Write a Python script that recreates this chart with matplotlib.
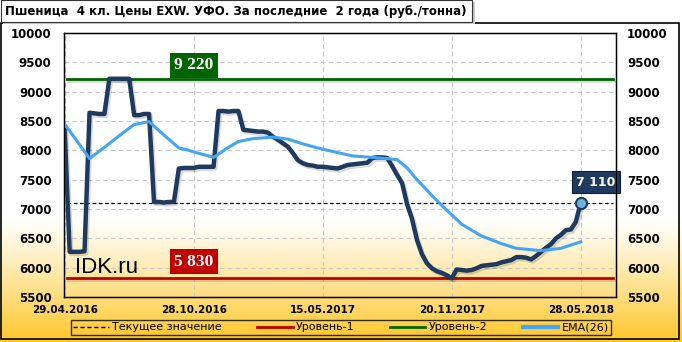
import numpy as np
import matplotlib
matplotlib.use("Agg")
import matplotlib.pyplot as plt
import matplotlib.patheffects as pe
from matplotlib.lines import Line2D
from matplotlib.patches import Rectangle

# ------------------------------------------------------------------ #
#  Données (lues sur le graphique, pas de points hebdomadaires)        #
# ------------------------------------------------------------------ #
prix = [8350, 6270, 6270, 6270, 6280, 8640, 8630, 8620, 8620, 9220,
        9220, 9220, 9220, 9220, 8600, 8600, 8620, 8620, 7120, 7120,
        7110, 7120, 7120, 7690, 7700, 7700, 7700, 7720, 7720, 7720,
        7720, 8670, 8670, 8660, 8670, 8670, 8350, 8340, 8330, 8320,
        8320, 8300, 8230, 8180, 8120, 8060, 7950, 7830, 7780, 7750,
        7740, 7720, 7720, 7710, 7700, 7690, 7720, 7750, 7760, 7770,
        7780, 7790, 7870, 7880, 7880, 7870, 7730, 7580, 7440, 7080,
        6830, 6470, 6230, 6075, 5990, 5940, 5910, 5870, 5820, 5970,
        5960, 5950, 5960, 5990, 6030, 6040, 6050, 6060, 6090, 6110,
        6130, 6180, 6180, 6170, 6140, 6200, 6270, 6340, 6400, 6500,
        6560, 6640, 6650, 6780, 7110]

ema_idx = [0, 5, 8, 11, 14, 17, 20, 23, 25, 27, 30, 33, 35, 38, 42, 45,
           48, 51, 53, 58, 62, 65, 67, 69, 71, 74, 76, 78, 80, 84, 88,
           91, 96, 100, 104]
ema_val = [8450, 7860, 8050, 8250, 8440, 8490, 8260, 8040, 8000, 7950,
           7880, 8050, 8150, 8200, 8225, 8190, 8110, 8040, 8000, 7905,
           7880, 7860, 7840, 7700, 7500, 7230, 7060, 6900, 6740, 6540,
           6410, 6330, 6290, 6330, 6440]

niveau1 = 5830
niveau2 = 9220
dernier = 7110

dates = ["29.04.2016", "28.10.2016", "15.05.2017", "20.11.2017", "28.05.2018"]
pos_dates = [0, 26, 52, 78, 104]
yticks = [5500, 6000, 6500, 7000, 7500, 8000, 8500, 9000, 9500, 10000]

titre = "Пшеница  4 кл. Цены EXW. УФО. За последние  2 года (руб./тонна)"
leg_labels = ["Текущее значение", "Уровень-1", "Уровень-2", "EMA(26)"]

# ------------------------------------------------------------------ #
#  Couleurs                                                            #
# ------------------------------------------------------------------ #
C_PRIX = "#1f3a5f"
C_EMA = "#42a5f5"
C_ROUGE = "#c00000"
C_VERT = "#006400"

W, H = 682, 342
fig = plt.figure(figsize=(W / 100, H / 100), dpi=100)

# fond dégradé blanc -> doré
bg = fig.add_axes([0, 0, 1, 1], zorder=-10)
bg.axis("off")
t = np.linspace(0, 1, 400)  # 0 = haut, 1 = bas
start = 0.64
g = np.clip((t - start) / (1 - start), 0, 1) ** 1.1
c_top = np.array([1.0, 1.0, 1.0])
c_bot = np.array([1.0, 0.78, 0.16])
img = c_top[None, :] * (1 - g[:, None]) + c_bot[None, :] * g[:, None]
bg.imshow(img[:, None, :], aspect="auto", extent=[0, 1, 0, 1])
bg.set_xlim(0, 1)
bg.set_ylim(0, 1)

# cadre extérieur
fig.patches.append(Rectangle((1 / W, 3 / H), 678 / W, 316 / H, transform=fig.transFigure,
                             fill=False, ec="black", lw=1.2, zorder=5))
# boîte du titre avec ombre
fig.patches.append(Rectangle((3 / W, 1 - 24 / H), 472 / W, 22 / H, transform=fig.transFigure,
                             fc="#c8c8c8", ec="none", zorder=5))
fig.patches.append(Rectangle((0.5 / W, 1 - 22 / H), 471 / W, 21.5 / H, transform=fig.transFigure,
                             fc="white", ec="#333333", lw=0.8, zorder=6))
fig.text(5 / W, 1 - 12 / H, titre, fontsize=8.5, fontweight="bold", va="center", ha="left", zorder=7)

# ------------------------------------------------------------------ #
#  Axe principal                                                       #
# ------------------------------------------------------------------ #
ax = fig.add_axes([64 / W, 1 - 297 / H, (616 - 64) / W, (297 - 33) / H])
ax.patch.set_alpha(0)
ax.set_xlim(-0.14, 111.1)
ax.set_ylim(5500, 10000)

ax.set_yticks(yticks)
ax.set_xticks(pos_dates)
ax.set_xticklabels(dates, fontsize=7.5, fontweight="bold")
ax.set_yticklabels([str(v) for v in yticks], fontsize=8.5, fontweight="bold")
ax.tick_params(length=0, pad=9)
ax.tick_params(axis="x", pad=6)
ax.grid(True, ls=(0, (4, 3)), color="#c8c8c8", lw=0.8)
for s in ax.spines.values():
    s.set_color("black")
    s.set_linewidth(1)

ax2 = ax.twinx()
ax2.set_ylim(ax.get_ylim())
ax2.set_yticks(yticks)
ax2.set_yticklabels([str(v) for v in yticks], fontsize=8.5, fontweight="bold")
ax2.tick_params(length=0, pad=8)
ax2.patch.set_alpha(0)

x = np.arange(len(prix))
ombre = [pe.SimpleLineShadow(offset=(1.2, -1.5), alpha=0.15), pe.Normal()]

ax.axhline(niveau2, color=C_VERT, lw=2, xmin=0.005, xmax=0.995, path_effects=ombre, zorder=3)
ax.axhline(niveau1, color=C_ROUGE, lw=2, xmin=0.005, xmax=0.995, path_effects=ombre, zorder=3)
ax.axhline(dernier, color="black", lw=0.9, ls=(0, (3, 2)), xmin=0.005, xmax=0.995, zorder=3)

ax.plot(x, prix, color=C_PRIX, lw=3.2, solid_joinstyle="round", path_effects=ombre, zorder=4)
ax.plot(ema_idx, ema_val, color=C_EMA, lw=2.2, solid_joinstyle="round", zorder=5)
ax.plot(x[-1], prix[-1], "o", ms=8, mfc="#6cb4dc", mec=C_PRIX, mew=1.5, zorder=6)

# étiquettes de niveau
ax.text(26, niveau2 + 230, "9 220", ha="center", va="center", fontsize=12.5,
        fontweight="bold", family="Liberation Serif", color="white", zorder=7,
        bbox=dict(boxstyle="square,pad=0.25", fc=C_VERT, ec="none"))
ax.text(26, niveau1 + 270, "5 830", ha="center", va="center", fontsize=12.5,
        fontweight="bold", family="Liberation Serif", color="white", zorder=7,
        bbox=dict(boxstyle="square,pad=0.25", fc=C_ROUGE, ec="none"))
ax.text(107.0, dernier + 350, "7 110", ha="center", va="center", fontsize=9,
        fontweight="bold", color="white", zorder=7, clip_on=False,
        bbox=dict(boxstyle="square,pad=0.35", fc=C_PRIX, ec="#0d1f33", lw=0.8))
ax.text(2.1, 5910, "IDK.ru", ha="left", va="baseline", fontsize=16,
        family="Liberation Sans", color="black", zorder=7)

# légende
handles = [
    Line2D([0], [0], color="black", lw=1, ls=(0, (3, 2))),
    Line2D([0], [0], color=C_ROUGE, lw=2),
    Line2D([0], [0], color=C_VERT, lw=2),
    Line2D([0], [0], color=C_EMA, lw=3),
]
leg = fig.legend(handles, leg_labels, loc="center", ncol=4, mode="expand",
                 bbox_to_anchor=(65 / W, 1 - 337 / H, 552 / W, 19 / H),
                 fontsize=8, frameon=True, fancybox=False, handlelength=3.2,
                 handletextpad=0.3, borderpad=0.25, columnspacing=2.0)
leg.get_frame().set_edgecolor("black")
leg.get_frame().set_facecolor("none")
leg.get_frame().set_linewidth(1)

fig.savefig("out.png", dpi=100)
